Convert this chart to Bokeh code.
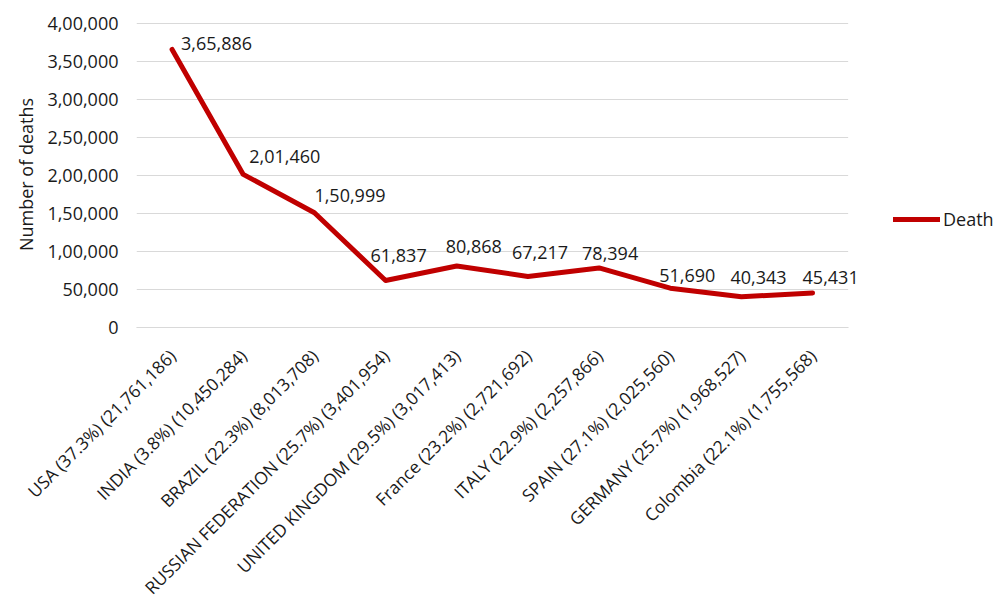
import math
from bokeh.plotting import figure
from bokeh.models import (ColumnDataSource, Range1d, FixedTicker,
                          Legend, LegendItem, LabelSet)
from bokeh.core.properties import value
from bokeh.embed import file_html
from bokeh.resources import INLINE

# ---- data ----
countries = [
    "USA (37.3%) (21,761,186)",
    "INDIA (3.8%) (10,450,284)",
    "BRAZIL (22.3%) (8,013,708)",
    "RUSSIAN FEDERATION (25.7%) (3,401,954)",
    "UNITED KINGDOM (29.5%) (3,017,413)",
    "France (23.2%) (2,721,692)",
    "ITALY (22.9%) (2,257,866)",
    "SPAIN (27.1%) (2,025,560)",
    "GERMANY (25.7%) (1,968,527)",
    "Colombia (22.1%) (1,755,568)",
]
deaths = [365886, 201460, 150999, 61837, 80868, 67217, 78394, 51690, 40343, 45431]
y_ticks = [0, 50000, 100000, 150000, 200000, 250000, 300000, 350000, 400000]
y_tick_labels = ["0", "50,000", "1,00,000", "1,50,000", "2,00,000",
                 "2,50,000", "3,00,000", "3,50,000", "4,00,000"]

# ---- label placement (style, screen pixels) ----
label_dx = [9, 6, 0, -15, -11, -16, -17, -11, -11, -10]
label_dy = [6, 18, 17, 25, 20, 24, 14, 13, 19, 15]


def indian(n):
    s = str(n)
    if len(s) <= 3:
        return s
    head, tail = s[:-3], s[-3:]
    parts = []
    while len(head) > 2:
        parts.insert(0, head[-2:])
        head = head[:-2]
    if head:
        parts.insert(0, head)
    return ",".join(parts) + "," + tail


FONT = "Open Sans"
TXT = "#1a1a1a"
RED = "#C00000"
GRID = "#D9D9D9"

n = len(countries)
idx = list(range(n))
lo, hi = -0.5, n - 0.5          # category band edges
extra = 0.3                     # room to the right for the last data label
y_top = y_ticks[-1]
y_pad = y_top * 2 / 304         # ~2px headroom so the top gridline is not clipped

src = ColumnDataSource(dict(
    x=idx, y=deaths,
    lbl=[indian(v) for v in deaths],
    dx=label_dx, dy=label_dy,
))

p = figure(
    x_range=Range1d(lo, hi + extra),
    y_range=Range1d(0, y_top + y_pad),
    frame_width=733, frame_height=306,
    min_border_left=136, min_border_top=21, min_border_right=133,
    min_border_bottom=250,
    output_backend="svg", toolbar_location=None,
    background_fill_color="white", border_fill_color="white",
)
p.outline_line_color = None

# horizontal gridlines over the category band only
p.segment(x0=[lo] * len(y_ticks), x1=[hi] * len(y_ticks),
          y0=y_ticks, y1=y_ticks, line_color=GRID, line_width=1,
          level="underlay")

line = p.line("x", "y", source=src, line_color=RED, line_width=5,
              line_join="round", line_cap="round")

labels = LabelSet(x="x", y="y", text="lbl", source=src,
                  x_offset="dx", y_offset="dy",
                  text_align="left", text_baseline="middle",
                  text_font=value(FONT), text_font_size=value("18px"),
                  text_color=value(TXT))
p.add_layout(labels)

# y axis
p.yaxis.ticker = FixedTicker(ticks=y_ticks)
p.yaxis.major_label_overrides = {t: l for t, l in zip(y_ticks, y_tick_labels)}
p.yaxis.axis_line_color = None
p.yaxis.major_tick_line_color = None
p.yaxis.minor_tick_line_color = None
p.yaxis.major_label_standoff = 12
p.yaxis.major_label_text_font = FONT
p.yaxis.major_label_text_font_size = "18px"
p.yaxis.major_label_text_color = TXT
p.yaxis.axis_label = "Number of deaths"
p.yaxis.axis_label_text_font = FONT
p.yaxis.axis_label_text_font_size = "18px"
p.yaxis.axis_label_text_font_style = "normal"
p.yaxis.axis_label_text_color = TXT
p.yaxis.axis_label_standoff = 6

# x axis (categories)
p.xaxis.ticker = FixedTicker(ticks=idx)
p.xaxis.major_label_overrides = {i: c for i, c in zip(idx, countries)}
p.xaxis.bounds = (lo, hi)
p.xaxis.axis_line_color = GRID
p.xaxis.major_tick_line_color = None
p.xaxis.minor_tick_line_color = None
p.xaxis.major_label_orientation = math.pi / 4
p.xaxis.major_label_standoff = 19
p.xaxis.major_label_text_font = FONT
p.xaxis.major_label_text_font_size = "17.4px"
p.xaxis.major_label_text_color = TXT

p.xgrid.grid_line_color = None
p.ygrid.grid_line_color = None

legend = Legend(items=[LegendItem(label="Death", renderers=[line])],
                location=(24, 96), padding=0, margin=0, spacing=0,
                glyph_width=47, glyph_height=20, label_height=20,
                label_standoff=3, border_line_color=None,
                background_fill_alpha=0,
                label_text_font=FONT, label_text_font_size="18px",
                label_text_color=TXT)
p.add_layout(legend, "right")

open("out.html", "w").write(file_html(p, INLINE))
